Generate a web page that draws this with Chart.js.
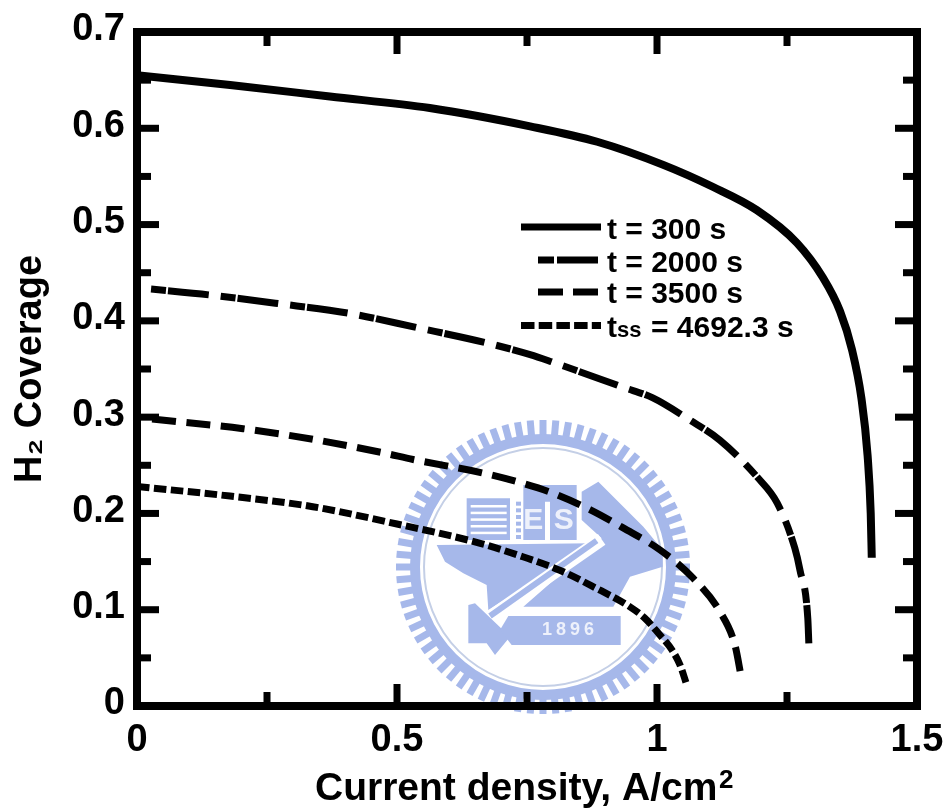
<!DOCTYPE html>
<html>
<head>
<meta charset="utf-8">
<title>H2 Coverage vs Current density</title>
<script src="https://cdn.jsdelivr.net/npm/chart.js@4"></script>
<style>
    html, body { margin: 0; padding: 0; background: #fff; }
    canvas { display: block; }
</style>
</head>
<body>
<canvas id="coverageChart" width="947" height="811"></canvas>
<script>
// Values
const x300 = [0, 0.179, 0.371, 0.563, 0.756, 0.885, 1.012, 1.108, 1.192, 1.269, 1.319, 1.352, 1.375, 1.393, 1.405, 1.411, 1.413];
const y300 = [0.655, 0.645, 0.633, 0.621, 0.602, 0.586, 0.562, 0.539, 0.515, 0.481, 0.445, 0.41, 0.37, 0.32, 0.26, 0.2, 0.154];

const x2000 = [0.027, 0.138, 0.271, 0.406, 0.538, 0.673, 0.756, 0.8, 0.935, 0.992, 1.063, 1.121, 1.194, 1.231, 1.265, 1.275, 1.29, 1.292];
const y2000 = [0.433, 0.427, 0.418, 0.408, 0.393, 0.377, 0.365, 0.357, 0.331, 0.32, 0.297, 0.276, 0.237, 0.211, 0.164, 0.141, 0.091, 0.065];

const x3500 = [0.029, 0.204, 0.338, 0.473, 0.531, 0.665, 0.737, 0.8, 0.871, 0.935, 1.006, 1.069, 1.121, 1.15, 1.162];
const y3500 = [0.298, 0.288, 0.277, 0.263, 0.256, 0.242, 0.232, 0.221, 0.204, 0.185, 0.162, 0.133, 0.098, 0.063, 0.03];

const xSteady = [0, 0.179, 0.338, 0.5, 0.66, 0.742, 0.813, 0.877, 0.948, 0.977, 1.002, 1.029, 1.044, 1.056];
const ySteady = [0.228, 0.218, 0.207, 0.189, 0.169, 0.155, 0.141, 0.124, 0.103, 0.091, 0.076, 0.058, 0.043, 0.024];

const xTicks = [0, 0.5, 1, 1.5];
const yTicks = [0, 0.1, 0.2, 0.3, 0.4, 0.5, 0.6, 0.7];
const xMinorTicks = [0.25, 0.75, 1.25];
const yMinorTicks = [0.05, 0.15, 0.25, 0.35, 0.45, 0.55, 0.65];

const seriesNames = ['t = 300 s', 't = 2000 s', 't = 3500 s', 't = 4692.3 s'];

const FONT = '"Liberation Sans", Arial, sans-serif';
const WATERMARK = '#a6b8ea';

function toPoints(xs, ys) {
    return xs.map((x, i) => ({ x: x, y: ys[i] }));
}

// Frame plus inward ticks on all four sides, major ones longer than minor ones
const inwardTicks = {
    id: 'inwardTicks',
    afterDatasetsDraw(chart) {
        const { ctx, chartArea: a, scales } = chart;
        ctx.save();
        ctx.fillStyle = '#000';
        ctx.strokeStyle = '#000';
        ctx.lineWidth = 8;
        ctx.strokeRect(a.left, a.top, a.right - a.left, a.bottom - a.top);
        const drawX = (values, len) => values.forEach(v => {
            const px = scales.x.getPixelForValue(v);
            ctx.fillRect(px - 3.5, a.bottom - len - 4, 7, len);
            ctx.fillRect(px - 3.5, a.top + 4, 7, len);
        });
        const drawY = (values, len) => values.forEach(v => {
            const py = scales.y.getPixelForValue(v);
            ctx.fillRect(a.left + 4, py - 3.5, len, 7);
            ctx.fillRect(a.right - len - 4, py - 3.5, len, 7);
        });
        drawX(xTicks, 18);
        drawX(xMinorTicks, 10);
        drawY(yTicks, 18);
        drawY(yMinorTicks, 10);
        ctx.restore();
    }
};

// Legend samples have different lengths in the original, so drawn by hand
const lineKey = {
    id: 'lineKey',
    afterDatasetsDraw(chart) {
        const ctx = chart.ctx;
        const rows = [
            { x1: 521, x2: 601, y: 227, dash: [], base: 239 },
            { x1: 538, x2: 598, y: 260, dash: [16, 3, 41, 3], base: 272 },
            { x1: 538, x2: 598, y: 292, dash: [25, 10], base: 303 },
            { x1: 521, x2: 601, y: 325.5, dash: [13.5, 4.2], base: 337 }
        ];
        ctx.save();
        ctx.fillStyle = '#000';
        ctx.textAlign = 'left';
        ctx.textBaseline = 'alphabetic';
        rows.forEach((r, i) => {
            ctx.beginPath();
            ctx.setLineDash(r.dash);
            ctx.lineWidth = 7;
            ctx.moveTo(r.x1, r.y);
            ctx.lineTo(r.x2, r.y);
            ctx.stroke();
            ctx.setLineDash([]);
            ctx.font = 'bold 30px ' + FONT;
            if (i === 3) {
                ctx.fillText('t', 607, r.base);
                ctx.fillText('= 4692.3 s', 651, r.base);
                ctx.font = 'bold 22px ' + FONT;
                ctx.fillText('ss', 617, r.base);
            } else {
                ctx.fillText(seriesNames[i], 607, r.base);
            }
        });
        // raised 2 of the x axis unit
        ctx.font = 'bold 26px ' + FONT;
        ctx.fillText('2', 719, 788);
        ctx.restore();
    }
};

// University seal behind the curves
const seal = {
    id: 'seal',
    beforeDatasetsDraw(chart) {
        const ctx = chart.ctx;
        const cx = 543, cy = 567;
        // coordinates below come from a 3x crop of the seal
        const zx = v => 380 + v / 3;
        const zy = v => 410 + v / 3;
        const poly = pts => {
            ctx.beginPath();
            pts.forEach((p, i) => i ? ctx.lineTo(zx(p[0]), zy(p[1])) : ctx.moveTo(zx(p[0]), zy(p[1])));
            ctx.closePath();
            ctx.fill();
        };
        ctx.save();
        ctx.filter = 'blur(0.7px)';
        ctx.fillStyle = WATERMARK;
        ctx.strokeStyle = WATERMARK;
        // teeth and ring
        ctx.lineWidth = 7;
        for (let i = 0; i < 72; i++) {
            const t = i * Math.PI * 2 / 72;
            ctx.beginPath();
            ctx.moveTo(cx + 128 * Math.cos(t), cy + 128 * Math.sin(t));
            ctx.lineTo(cx + 147 * Math.cos(t), cy + 147 * Math.sin(t));
            ctx.stroke();
        }
        ctx.lineWidth = 10;
        ctx.beginPath();
        ctx.arc(cx, cy, 128, 0, Math.PI * 2);
        ctx.stroke();
        ctx.strokeStyle = '#c4cfe6';
        ctx.lineWidth = 2;
        ctx.beginPath();
        ctx.arc(cx, cy, 119, 0, Math.PI * 2);
        ctx.stroke();

        // building with stripes
        poly([[260, 265], [390, 265], [390, 390], [260, 390]]);
        ctx.fillStyle = '#fff';
        for (let z = 285; z < 385; z += 20) {
            ctx.fillRect(zx(272), zy(z), 36, 2.5);
        }
        ctx.fillStyle = WATERMARK;
        // E and S cells, dotted strip next to them
        poly([[430, 225], [590, 225], [590, 390], [510, 390], [510, 275], [495, 275], [495, 390], [430, 390]]);
        for (let z = 275; z < 385; z += 20) {
            ctx.fillRect(zx(408), zy(z), 5, 4);
        }
        // roof on the right
        poly([[605, 245], [655, 215], [790, 350], [848, 420], [848, 470], [750, 500], [700, 590], [430, 590], [665, 385], [605, 330]]);
        // anvil body
        poly([[170, 405], [640, 400], [325, 600], [320, 525], [250, 490], [195, 455]]);
        // white handle
        ctx.strokeStyle = '#fff';
        ctx.lineWidth = 13;
        ctx.beginPath();
        ctx.moveTo(zx(325), zy(625));
        ctx.lineTo(zx(665), zy(388));
        ctx.stroke();
        ctx.strokeStyle = WATERMARK;
        ctx.lineWidth = 6;
        ctx.beginPath();
        ctx.moveTo(zx(330), zy(618));
        ctx.lineTo(zx(650), zy(392));
        ctx.stroke();
        // hammer head
        poly([[265, 585], [285, 580], [390, 680], [345, 735], [320, 700], [265, 700]]);
        // plaque
        poly([[385, 618], [722, 618], [722, 705], [395, 705], [360, 660]]);

        ctx.fillStyle = '#eef1fb';
        ctx.textAlign = 'center';
        ctx.textBaseline = 'middle';
        ctx.font = 'bold 30px ' + FONT;
        ctx.fillText('E', zx(460), zy(332));
        ctx.fillText('S', zx(551), zy(332));
        ctx.font = 'bold 18px ' + FONT;
        ctx.letterSpacing = '4px';
        ctx.fillText('1896', zx(570), zy(660));
        ctx.restore();
    }
};

const tickFont = { family: FONT, size: 38, weight: 'bold' };

function baseLine(label, xs, ys, dash, width) {
    return {
        label: label,
        data: toPoints(xs, ys),
        borderColor: '#000',
        borderWidth: width,
        borderDash: dash,
        borderCapStyle: 'butt',
        pointRadius: 0,
        fill: false,
        cubicInterpolationMode: 'monotone'
    };
}

new Chart(document.getElementById('coverageChart'), {
    type: 'line',
    data: {
        datasets: [
            baseLine(seriesNames[0], x300, y300, [], 8),
            baseLine(seriesNames[1], x2000, y2000, [15, 2, 41, 12], 7),
            baseLine(seriesNames[2], x3500, y3500, [24, 10.5], 7),
            baseLine(seriesNames[3], xSteady, ySteady, [12.5, 4.5], 7)
        ]
    },
    plugins: [seal, inwardTicks, lineKey],
    options: {
        responsive: false,
        animation: false,
        layout: { autoPadding: false, padding: { top: 32, right: 30, left: 0, bottom: 0 } },
        plugins: { legend: { display: false }, tooltip: { enabled: false } },
        scales: {
            x: {
                type: 'linear',
                min: 0,
                max: 1.5,
                afterBuildTicks: scale => { scale.ticks = xTicks.map(v => ({ value: v })); },
                // the 1.5 label may hang past the plot area
                afterFit: scale => { scale.height = 105; scale.paddingLeft = 0; scale.paddingRight = 0; },
                grid: { display: false, drawTicks: false },
                border: { display: false },
                ticks: { color: '#000', font: tickFont, padding: 12, maxRotation: 0, callback: v => String(v) },
                title: {
                    display: true,
                    text: 'Current density, A/cm\u00A0\u00A0',
                    color: '#000',
                    font: { family: FONT, size: 39, weight: 'bold' },
                    padding: { top: 0, bottom: -2 }
                }
            },
            y: {
                min: 0,
                max: 0.7,
                afterBuildTicks: scale => { scale.ticks = yTicks.map(v => ({ value: v })); },
                afterFit: scale => { scale.width = 137; scale.paddingTop = 0; scale.paddingBottom = 0; },
                grid: { display: false, drawTicks: false },
                border: { display: false },
                ticks: { color: '#000', font: tickFont, padding: 12, labelOffset: -2, callback: v => String(v) },
                title: {
                    display: true,
                    text: 'H₂ Coverage',
                    color: '#000',
                    font: { family: FONT, size: 38, weight: 'bold' },
                    padding: { top: 8, bottom: 0 }
                }
            }
        }
    }
});
</script>
</body>
</html>
